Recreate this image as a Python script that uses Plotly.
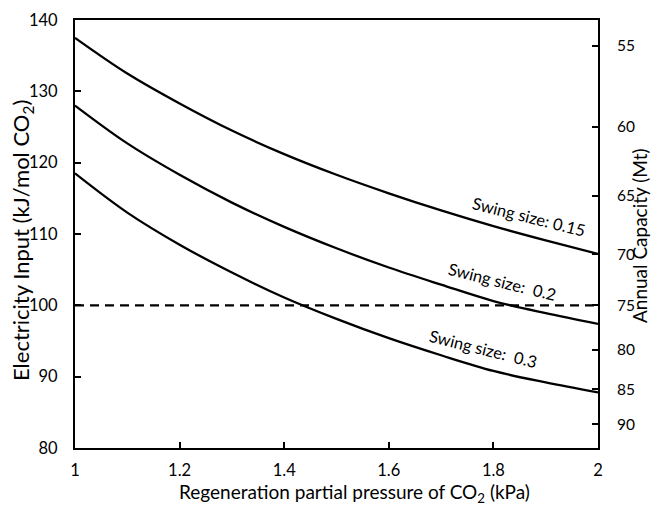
import plotly.graph_objects as go

# Data
pressure = [1.0, 1.1, 1.2, 1.3, 1.4, 1.5, 1.6, 1.7, 1.8, 1.9, 2.0]
swing_015 = [137.5, 132.5, 128.3, 124.5, 121.2, 118.3, 115.7, 113.3, 111.1, 109.1, 107.2]
swing_02 = [128.0, 122.7, 118.3, 114.4, 111.0, 108.0, 105.3, 102.9, 100.6, 98.9, 97.4]
swing_03 = [118.5, 113.0, 108.5, 104.6, 101.1, 98.1, 95.4, 93.0, 90.8, 89.2, 87.8]
threshold_x = [1.0, 2.0]
threshold_y = [100, 100]

left_ticks = [80, 90, 100, 110, 120, 130, 140]
x_ticks = [1, 1.2, 1.4, 1.6, 1.8, 2]
x_ticklabels = ["1", "1.2", "1.4", "1.6", "1.8", "2"]
capacity_ticks = [55, 60, 65, 70, 75, 80, 85, 90]
capacity_constant = 7500  # capacity (Mt) * electricity (kJ/mol) relationship

FONT = "Lato, Carlito, 'Liberation Sans', sans-serif"

fig = go.Figure()
for ys in (swing_015, swing_02, swing_03):
    fig.add_trace(go.Scatter(x=pressure, y=ys, mode="lines", line=dict(color="black", width=2.3, shape="spline"),
                             showlegend=False, hoverinfo="skip"))
fig.add_trace(go.Scatter(x=threshold_x, y=threshold_y, mode="lines",
                         line=dict(color="black", width=2.3, dash="9px,6px"), showlegend=False))
# invisible trace on secondary axis
fig.add_trace(go.Scatter(x=threshold_x, y=threshold_y, mode="lines", yaxis="y2",
                         line=dict(color="rgba(0,0,0,0)"), showlegend=False, hoverinfo="skip"))

labels = [("Swing size: 0.15", 1.868, 112.4), ("Swing size:  0.2", 1.817, 103.3), ("Swing size:  0.3", 1.78, 93.9)]
for txt, xa, ya in labels:
    fig.add_annotation(x=xa, y=ya, text=txt, showarrow=False, textangle=14,
                       font=dict(family=FONT, size=16.5, color="black"))

# axis titles as annotations
fig.add_annotation(xref="paper", yref="paper", x=-0.101, y=0.484, xanchor="center", yanchor="middle",
                   text="Electricity Input (kJ/mol CO<sub>2</sub>)", textangle=-90, showarrow=False,
                   font=dict(family=FONT, size=22, color="black"))
fig.add_annotation(xref="paper", yref="paper", x=1.079, y=0.496, xanchor="center", yanchor="middle",
                   text="Annual Capacity (Mt)", textangle=-90, showarrow=False,
                   font=dict(family=FONT, size=19, color="black"))
fig.add_annotation(xref="paper", yref="paper", x=0.535, y=-0.105, xanchor="center", yanchor="middle",
                   text="Regeneration partial pressure of CO<sub>2</sub> (kPa)", showarrow=False,
                   font=dict(family=FONT, size=19, color="black"))

axis_common = dict(ticks="inside", ticklen=6, tickwidth=1.5, tickcolor="black", showline=True,
                   linecolor="black", linewidth=2, showgrid=False, zeroline=False, automargin=False)

fig.update_layout(
    width=651, height=507,
    margin=dict(l=75, r=53, t=20, b=59),
    plot_bgcolor="white", paper_bgcolor="white",
    font=dict(family=FONT, size=16.5, color="black"),
    xaxis=dict(range=[1, 2], tickvals=x_ticks, ticktext=x_ticklabels, mirror=True,
               ticklabelstandoff=6, **axis_common),
    yaxis=dict(range=[80, 140], tickvals=left_ticks, ticklabelstandoff=12, **axis_common),
    yaxis2=dict(range=[80, 140], overlaying="y", side="right",
                tickvals=[capacity_constant / c for c in capacity_ticks],
                ticktext=[str(c) for c in capacity_ticks], ticklabelstandoff=14,
                tickfont=dict(size=15.5), **axis_common),
)

fig.write_html("out.html", config={"displayModeBar": False},
               post_script="document.body.style.margin='0';")
